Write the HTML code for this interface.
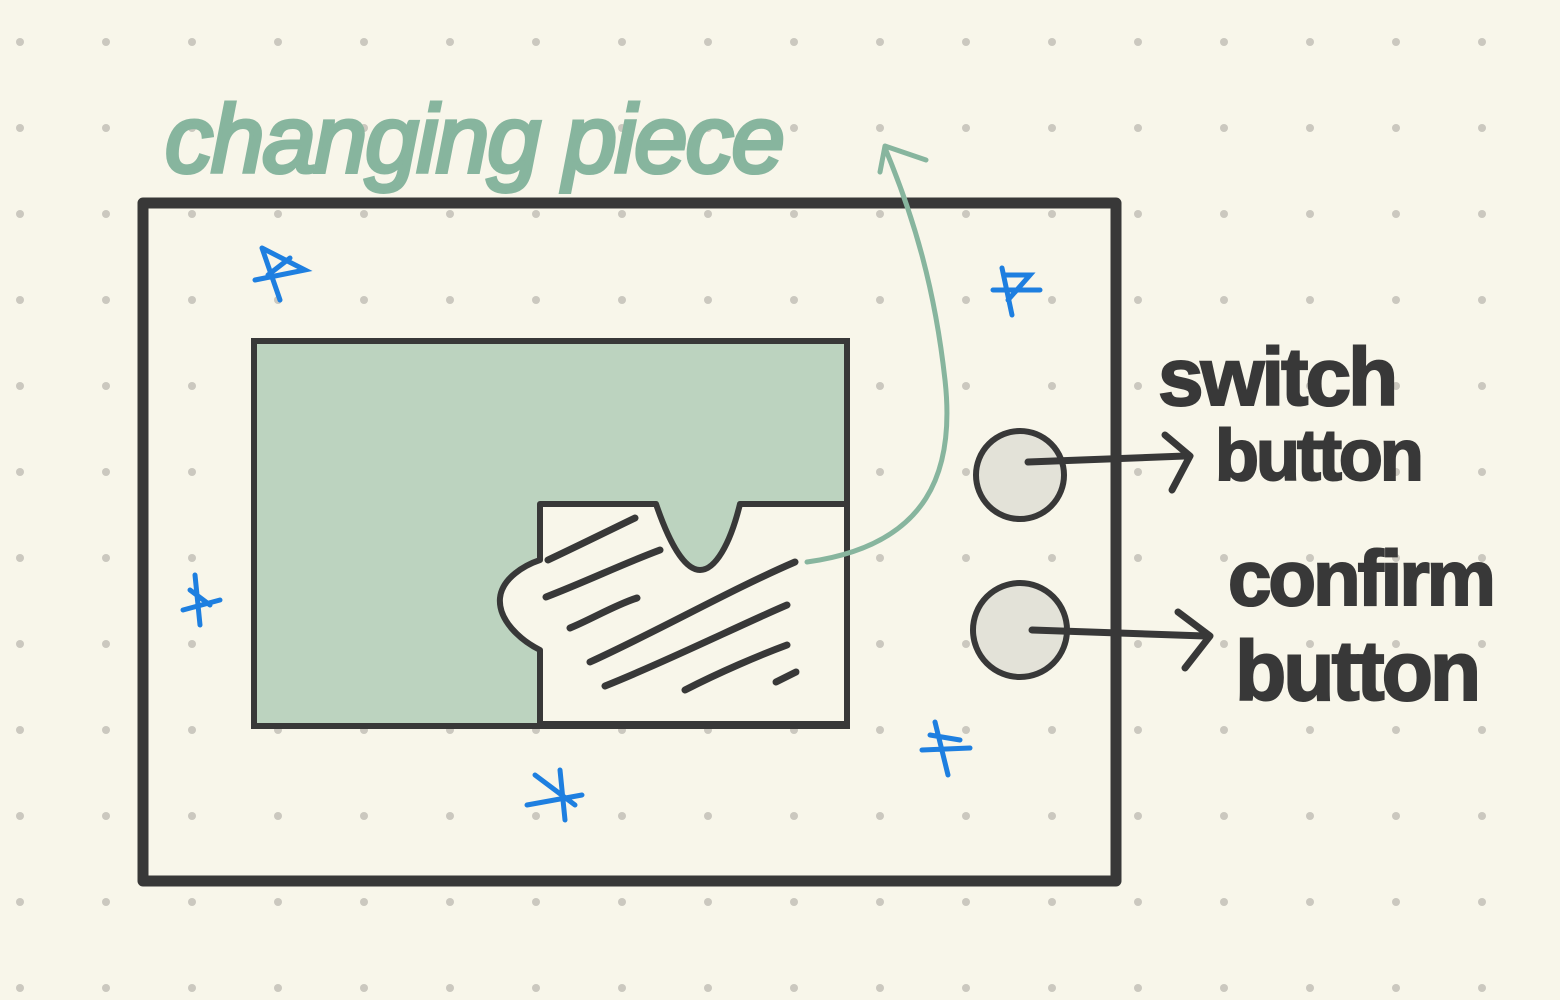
<!DOCTYPE html>
<html><head><meta charset="utf-8"><style>
html,body{margin:0;padding:0;background:#f8f6ea;}
svg{display:block}
</style></head><body>
<svg width="1560" height="1000" viewBox="0 0 1560 1000" xmlns="http://www.w3.org/2000/svg">
<rect width="1560" height="1000" fill="#f8f6ea"/>
<g id="dots" fill="#cbc8bf"></g>
<rect x="143" y="203" width="973" height="678" fill="none" stroke="#383838" stroke-width="11" stroke-linejoin="round"/>
<rect x="254" y="341" width="593" height="385" fill="#bcd3bf" stroke="#383838" stroke-width="6"/>
<path d="M540,504 L656,504 C670,545 685,570 700,570 C715,570 730,545 740,504 L847,504 L847,724 L540,724 L540,650 C520,640 498,620 500,598 C502,578 525,565 540,560 Z" fill="#f8f6ea" stroke="#383838" stroke-width="6" stroke-linejoin="round"/>
<g stroke="#383838" stroke-width="7" stroke-linecap="round" fill="none">
<path d="M548,560 C580,545 610,530 635,518"/>
<path d="M546,597 C590,580 620,565 660,550"/>
<path d="M570,628 C590,620 615,605 637,598"/>
<path d="M590,662 C660,630 730,590 795,562"/>
<path d="M605,686 C670,660 740,625 787,605"/>
<path d="M685,690 C720,672 760,655 787,645"/>
<path d="M776,682 L796,672"/>
</g>
<circle cx="1020" cy="475" r="44" fill="#e3e2d8" stroke="#383838" stroke-width="6"/>
<circle cx="1020" cy="630" r="47" fill="#e3e2d8" stroke="#383838" stroke-width="6"/>
<g stroke="#383838" stroke-width="7" stroke-linecap="round" stroke-linejoin="round" fill="none">
<path d="M1028,462 L1185,456"/><path d="M1165,435 L1190,456 L1172,490"/>
<path d="M1032,630 L1205,636"/><path d="M1178,612 L1210,636 L1185,668"/>
</g>
<path d="M807,562 C930,545 955,470 945,380 C935,290 915,220 885,148" fill="none" stroke="#87b59e" stroke-width="5" stroke-linecap="round"/>
<path d="M880,172 L885,146 L926,160" fill="none" stroke="#87b59e" stroke-width="5" stroke-linecap="round" stroke-linejoin="round"/>
<g fill="none" stroke="#1e7fe0" stroke-width="5" stroke-linecap="round">
<path d="M262,248 L280,300 M255,280 L305,270 L262,248 M268,275 L290,258"/>
<path d="M1002,268 L1012,315 M993,290 L1040,290 M1005,275 L1030,275 L1008,300"/>
<path d="M195,575 L200,625 M183,610 L220,600 M190,590 L210,605"/>
<path d="M935,722 L948,775 M922,750 L970,748 M930,735 L960,740"/>
<path d="M560,770 L565,820 M527,805 L582,795 M535,775 L575,805"/>
</g>
<text x="165" y="172" font-family="Liberation Sans, sans-serif" font-size="96" font-style="italic" fill="#87b59e" stroke="#87b59e" stroke-width="4" letter-spacing="-2">changing piece</text>
<text x="1158" y="405" font-family="Liberation Sans, sans-serif" font-size="82" font-weight="bold" fill="#383838" stroke="#383838" stroke-width="2" letter-spacing="-3">switch</text>
<text x="1215" y="480" font-family="Liberation Sans, sans-serif" font-size="72" font-weight="bold" fill="#383838" stroke="#383838" stroke-width="2" letter-spacing="-3">button</text>
<text x="1228" y="605" font-family="Liberation Sans, sans-serif" font-size="78" font-weight="bold" fill="#383838" stroke="#383838" stroke-width="2" letter-spacing="-3">confirm</text>
<text x="1235" y="700" font-family="Liberation Sans, sans-serif" font-size="84" font-weight="bold" fill="#383838" stroke="#383838" stroke-width="2" letter-spacing="-3">button</text>
</svg>
<script>
const g=document.getElementById('dots');
for(let y=42;y<1000;y+=86)for(let x=20;x<1560;x+=86){
const c=document.createElementNS('http://www.w3.org/2000/svg','circle');
c.setAttribute('cx',x);c.setAttribute('cy',y);c.setAttribute('r',4);


g.appendChild(c);}
</script>
</body></html>
